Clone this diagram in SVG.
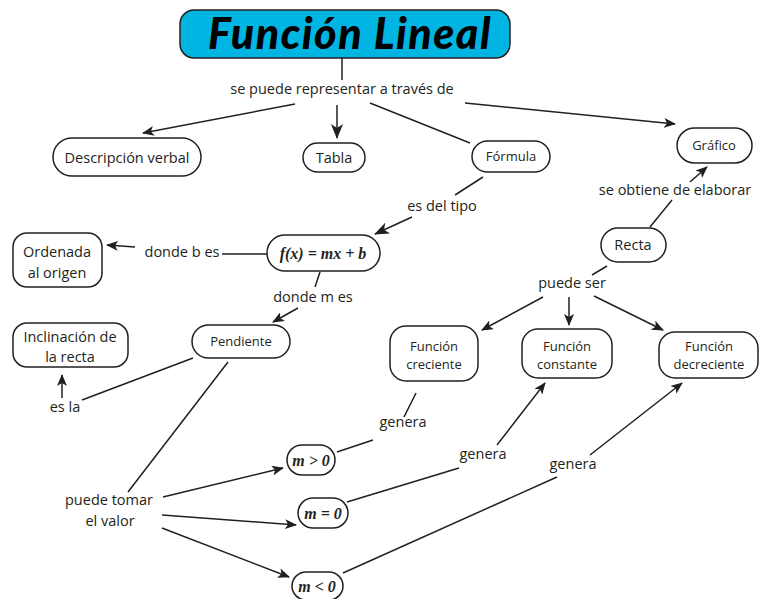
<svg xmlns="http://www.w3.org/2000/svg" width="759" height="599" viewBox="0 0 759 599">
<defs>
<style>
.bg{fill:#ffffff}
.node{fill:#ffffff;stroke:#231f20;stroke-width:1.5}
.title{fill:#00b5e2;stroke:#231f20;stroke-width:1.5}
.t{font-family:"Open Sans","Noto Sans",sans-serif;font-size:14.5px;fill:#231f20;text-anchor:middle}
.s{font-size:13px}
.m{font-family:"Liberation Serif",serif;font-weight:bold;font-style:italic;font-size:16px;fill:#231f20;text-anchor:middle}
.tt{font-family:Lato,"Open Sans",sans-serif;font-weight:900;font-style:italic;font-size:43px;letter-spacing:1.5px;fill:#000000;text-anchor:middle}
.c{fill:none;stroke:#231f20;stroke-width:1.5}
.a{marker-end:url(#ah)}
.A{marker-end:url(#AH)}
</style>
<marker id="ah" markerUnits="userSpaceOnUse" markerWidth="12" markerHeight="10" refX="11" refY="5" orient="auto">
<path d="M0,0 L12,5 L0,10 L3,5 z" fill="#231f20"/>
</marker>
<marker id="AH" markerUnits="userSpaceOnUse" markerWidth="15" markerHeight="12" refX="14" refY="6" orient="auto">
<path d="M0,0 L15,6 L0,12 L4,6 z" fill="#231f20"/>
</marker>
</defs>
<rect class="bg" width="759" height="599"/>
<g id="connectors">
<line class="c" x1="342" y1="58" x2="342" y2="80"/>
<line class="c a" x1="295" y1="104" x2="143" y2="133"/>
<line class="c A" x1="337" y1="105" x2="337" y2="138"/>
<line class="c" x1="370" y1="103" x2="470" y2="143"/>
<line class="c a" x1="465" y1="103" x2="675" y2="124"/>
<line class="c" x1="483" y1="177" x2="455" y2="195"/>
<line class="c A" x1="412" y1="217" x2="375" y2="234"/>
<line class="c" x1="650" y1="227" x2="672" y2="200"/>
<line class="c a" x1="690" y1="182" x2="707" y2="167"/>
<line class="c" x1="607" y1="266" x2="592" y2="275"/>
<line class="c a" x1="543" y1="297" x2="482" y2="330"/>
<line class="c a" x1="569" y1="297" x2="569" y2="325"/>
<line class="c a" x1="594" y1="296" x2="663" y2="330"/>
<line class="c" x1="222" y1="254" x2="267" y2="254"/>
<line class="c a" x1="135" y1="247" x2="107" y2="245"/>
<line class="c" x1="320" y1="272" x2="315" y2="287"/>
<line class="c a" x1="298" y1="308" x2="273" y2="322"/>
<line class="c" x1="193" y1="358" x2="82" y2="400"/>
<line class="c a" x1="62" y1="398" x2="62" y2="375"/>
<line class="c" x1="228" y1="362" x2="128" y2="492"/>
<line class="c a" x1="163" y1="497" x2="283" y2="468"/>
<line class="c a" x1="162" y1="515" x2="296" y2="525"/>
<line class="c a" x1="162" y1="528" x2="289" y2="577"/>
<line class="c" x1="337" y1="452" x2="373" y2="440"/>
<line class="c" x1="416" y1="393" x2="404" y2="417"/>
<line class="c" x1="347" y1="502" x2="459" y2="468"/>
<line class="c a" x1="497" y1="445" x2="545" y2="383"/>
<line class="c" x1="343" y1="573" x2="557" y2="477"/>
<line class="c a" x1="590" y1="455" x2="682" y2="383"/>
</g>
<g id="title">
<rect class="title" x="180" y="10" width="330" height="48" rx="14"/>
<text class="tt" x="350" y="49">Función Lineal</text>
</g>
<g id="lbl-representar"><text class="t" x="342" y="94">se puede representar a través de</text></g>
<g id="descripcion">
<rect class="node" x="53" y="138" width="148" height="38" rx="19"/>
<text class="t" x="127" y="163">Descripción verbal</text>
</g>
<g id="tabla">
<rect class="node" x="303" y="143" width="62" height="29" rx="14.5"/>
<text class="t" x="334" y="163">Tabla</text>
</g>
<g id="formula">
<rect class="node" x="472" y="141" width="78" height="31" rx="15.5"/>
<text class="t s" x="511" y="161">Fórmula</text>
</g>
<g id="grafico">
<rect class="node" x="677" y="128" width="75" height="35" rx="17.5"/>
<text class="t s" x="714" y="150">Gráfico</text>
</g>
<g id="lbl-obtiene"><text class="t" x="675" y="195">se obtiene de elaborar</text></g>
<g id="lbl-tipo"><text class="t" x="442" y="211">es del tipo</text></g>
<g id="recta">
<rect class="node" x="601" y="228" width="65" height="34" rx="17"/>
<text class="t" x="633" y="250">Recta</text>
</g>
<g id="lbl-puedeser"><text class="t" x="572" y="288">puede ser</text></g>
<g id="creciente">
<rect class="node" x="390" y="326" width="88" height="55" rx="16"/>
<text class="t s" x="434" y="351">Función</text>
<text class="t s" x="434" y="369">creciente</text>
</g>
<g id="constante">
<rect class="node" x="522" y="329" width="90" height="49" rx="16"/>
<text class="t s" x="567" y="351">Función</text>
<text class="t s" x="567" y="369">constante</text>
</g>
<g id="decreciente">
<rect class="node" x="659" y="332" width="99" height="46" rx="16"/>
<text class="t s" x="709" y="351">Función</text>
<text class="t s" x="709" y="369">decreciente</text>
</g>
<g id="ordenada">
<rect class="node" x="13" y="233" width="89" height="54" rx="14"/>
<text class="t" x="57" y="257">Ordenada</text>
<text class="t" x="57" y="278">al origen</text>
</g>
<g id="lbl-b"><text class="t" x="182" y="257">donde b es</text></g>
<g id="fx">
<rect class="node" x="267" y="235" width="113" height="36" rx="18"/>
<text class="m" x="323" y="259">f(x) = mx + b</text>
</g>
<g id="lbl-m"><text class="t" x="313" y="302">donde m es</text></g>
<g id="pendiente">
<rect class="node" x="192" y="325" width="98" height="33" rx="16.5"/>
<text class="t s" x="241" y="346">Pendiente</text>
</g>
<g id="inclinacion">
<rect class="node" x="13" y="323" width="115" height="44" rx="14"/>
<text class="t" x="70" y="342">Inclinación de</text>
<text class="t" x="70" y="362">la recta</text>
</g>
<g id="lbl-esla"><text class="t" x="65" y="412">es la</text></g>
<g id="lbl-tomar">
<text class="t" x="109" y="505">puede tomar</text>
<text class="t" x="110" y="526">el valor</text>
</g>
<g id="mpos">
<rect class="node" x="287" y="445" width="48" height="30" rx="15"/>
<text class="m" x="311" y="466">m &gt; 0</text>
</g>
<g id="mzero">
<rect class="node" x="298" y="498" width="50" height="30" rx="15"/>
<text class="m" x="323" y="519">m = 0</text>
</g>
<g id="mneg">
<rect class="node" x="292" y="572" width="51" height="28" rx="14"/>
<text class="m" x="317" y="592">m &lt; 0</text>
</g>
<g id="lbl-genera1"><text class="t" x="403" y="427">genera</text></g>
<g id="lbl-genera2"><text class="t" x="483" y="459">genera</text></g>
<g id="lbl-genera3"><text class="t" x="573" y="469">genera</text></g>
</svg>
